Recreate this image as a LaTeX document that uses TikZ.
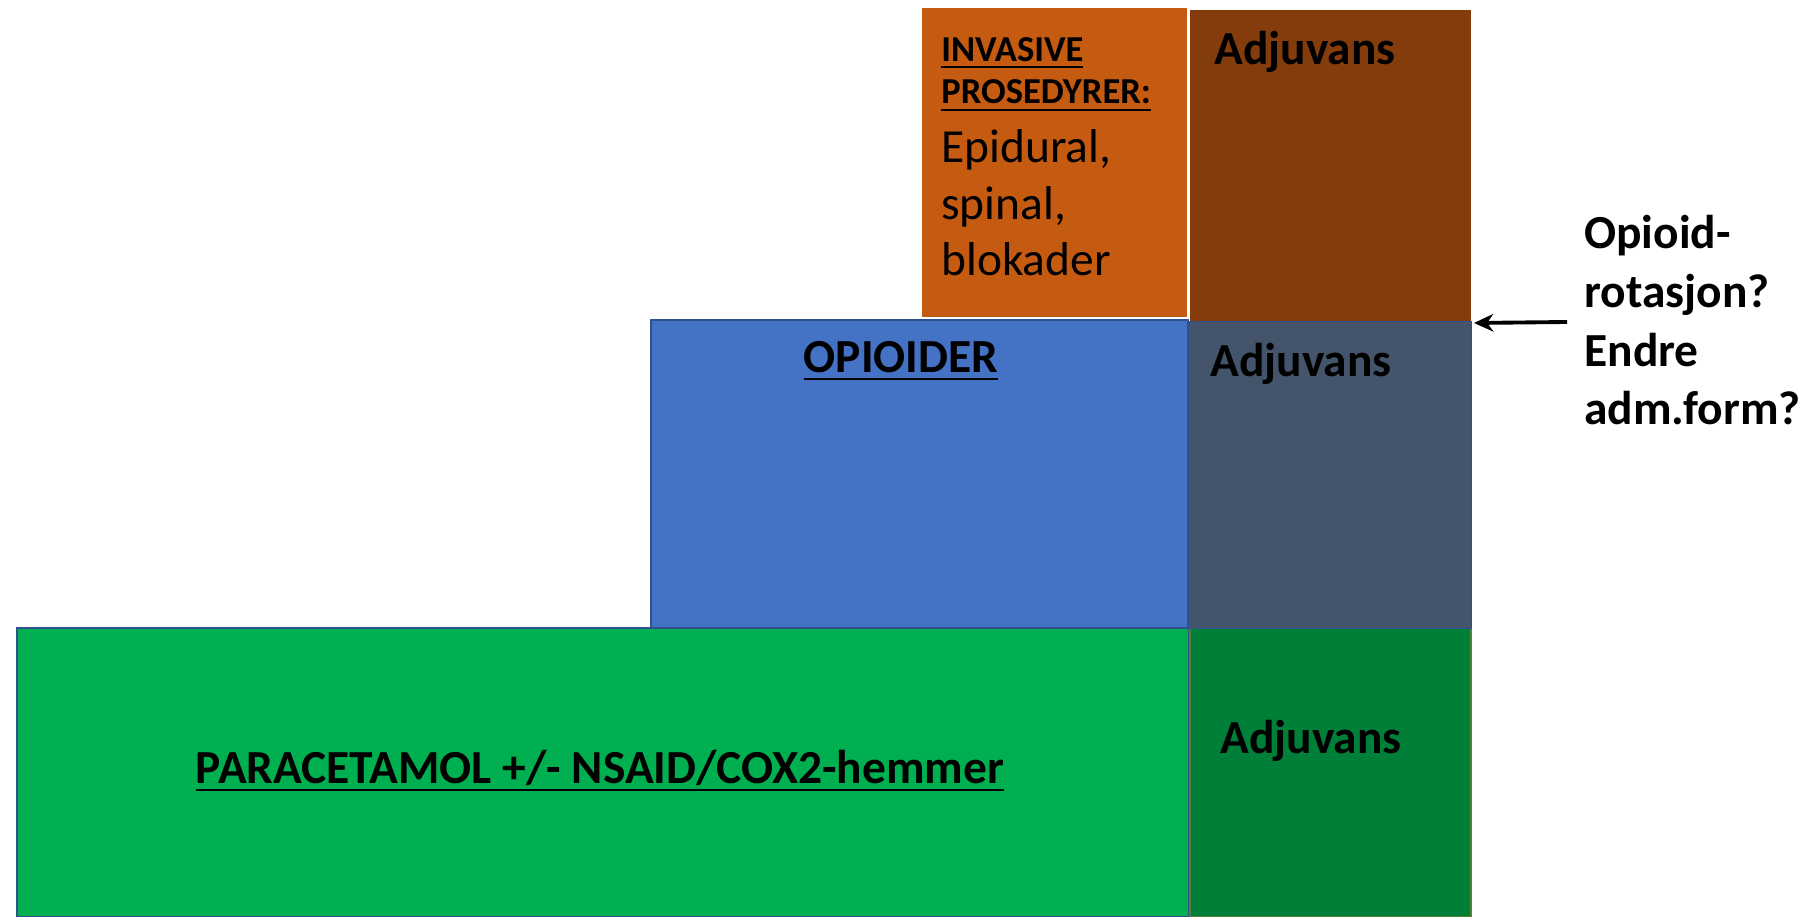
\documentclass[tikz,border=0pt]{standalone}
\usepackage{fontspec}
\setmainfont{Carlito}
\usetikzlibrary{arrows.meta}
\newsavebox{\ulsave}
\newcommand{\ulbold}[1]{\sbox{\ulsave}{#1}\rlap{\rule[-4.2pt]{\wd\ulsave}{1.6pt}}\usebox{\ulsave}}
\definecolor{paragreen}{HTML}{00B050}
\definecolor{adjgreen}{HTML}{007F38}
\definecolor{adjolive}{HTML}{548235}
\definecolor{opiblue}{HTML}{4472C4}
\definecolor{frameblue}{HTML}{2F528F}
\definecolor{adjslate}{HTML}{44546A}
\definecolor{invorange}{HTML}{C55A11}
\definecolor{adjbrown}{HTML}{843C0C}
\tikzset{lbl/.style={inner sep=0pt, font=\bfseries\fontsize{27}{33.4}\selectfont}}
\begin{document}
\begin{tikzpicture}
\useasboundingbox (0,0) rectangle (36.32,18.34);
\draw[fill=paragreen, draw=frameblue, line width=1.4pt] (0.34,0) rectangle (23.78,5.78);
\draw[fill=adjgreen, draw=adjolive, line width=1pt] (23.8,0) rectangle (29.42,5.78);
\draw[fill=opiblue, draw=frameblue, line width=0.8pt] (13.02,5.78) rectangle (23.76,11.94);
\draw[fill=adjslate, draw=frameblue, line width=0.5pt] (23.76,5.78) rectangle (29.42,11.92);
\draw[fill=invorange, draw=white, line width=1pt] (18.42,11.98) rectangle (23.76,18.2);
\fill[adjbrown] (23.8,11.92) rectangle (29.42,18.14);
\node[lbl, anchor=base] (paracetamol) at (12.0,2.66) {\ulbold{PARACETAMOL +/- NSAID/COX2-hemmer}};
\node[lbl, anchor=base] (opioider) at (18.02,10.88) {\ulbold{OPIOIDER}};
\node[lbl, anchor=base west] (adjuvans1) at (24.4,3.26) {Adjuvans};
\node[lbl, anchor=base west] (adjuvans2) at (24.2,10.8) {Adjuvans};
\node[lbl, anchor=base west] (adjuvans3) at (24.28,17.04) {Adjuvans};
% base of a multi-line node = its last line
\node[anchor=base west, inner sep=0pt, align=left, font=\bfseries\fontsize{20.8}{24.4}\selectfont] (invasive) at (18.82,16.26) {\ulbold{INVASIVE}\\\ulbold{PROSEDYRER:}};
\node[anchor=base west, inner sep=0pt, align=left, font=\fontsize{27}{32.4}\selectfont] (prosedyrer) at (18.82,12.82) {Epidural,\\spinal,\\blokader};
\node[lbl, anchor=base west, align=left] (rotasjon) at (31.68,9.84) {Opioid-\\rotasjon?\\Endre\\adm.form?};
% arrow to the top of the opioid step
\coordinate (tail) at (31.34,11.9);
\coordinate (tip) at (29.48,11.88);
\draw[-{Stealth[length=11pt,width=10pt]}, line width=2.2pt] (tail) -- (tip);
\end{tikzpicture}
\end{document}
